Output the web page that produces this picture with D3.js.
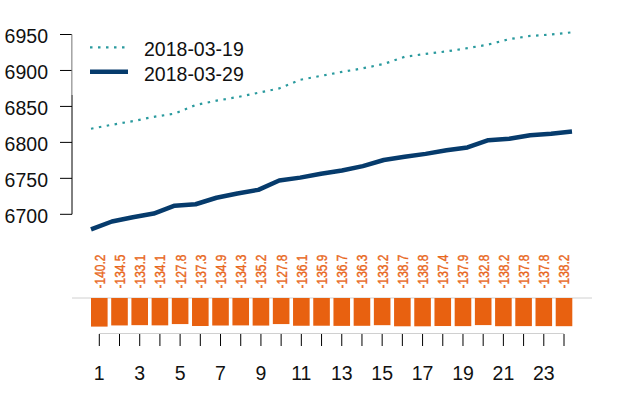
<!DOCTYPE html>
<html>
<head>
<meta charset="utf-8">
<script src="https://cdn.jsdelivr.net/npm/d3@7"></script>
<style>
  body { margin: 0; background: #fff; }
  svg { display: block; font-family: "Liberation Sans", Arial, sans-serif; }
</style>
</head>
<body>
<div id="chart"></div>
<script>
// Data
const hours = d3.range(1, 25);
const series0319 = [6819, 6824.5, 6829.5, 6835.5, 6840, 6852, 6858, 6863, 6869, 6875, 6887, 6892.5,
  6898, 6903, 6909, 6919, 6923, 6926.5, 6931, 6936, 6943.5, 6948, 6950, 6953];
const series0329 = [6679, 6690, 6696, 6701, 6712, 6714, 6723, 6729, 6734, 6747, 6751, 6756.5,
  6761, 6767, 6775.5, 6780, 6784, 6789, 6793, 6803, 6805, 6810, 6812, 6815];
const diffs = [-140.2, -134.5, -133.1, -134.1, -127.8, -137.3, -134.9, -134.3, -135.2, -127.8, -136.1, -135.9,
  -136.7, -136.3, -133.2, -138.7, -138.8, -137.4, -137.9, -132.8, -138.2, -137.8, -137.8, -138.2];
const yTicks = [6700, 6750, 6800, 6850, 6900, 6950];
const xTickLabels = [1, 3, 5, 7, 9, 11, 13, 15, 17, 19, 21, 23];
const legendNames = ["2018-03-19", "2018-03-29"];

const width = 640, height = 400;
const teal = "#2a9a9e", navy = "#063b6c", orange = "#e86110", labelOrange = "#e8671c";

const svg = d3.select("#chart").append("svg")
  .attr("width", width)
  .attr("height", height);

// Scales
const x = d3.scaleLinear().domain([1, 24]).range([91, 572]);
const xb = d3.scaleLinear().domain([1, 24]).range([99.3, 564]);
const y = d3.scaleLinear().domain([6700, 6950]).range([214.3, 34.5]);
const yb = d3.scaleLinear().domain([0, -140.2]).range([298, 326.6]);

// Y axis (R style)
const yAxis = svg.append("g");
yAxis.append("line")
  .attr("x1", 72).attr("x2", 72)
  .attr("y1", y(6700)).attr("y2", y(6950))
  .attr("stroke", "#000");
yAxis.selectAll(".tick").data(yTicks).enter().append("line")
  .attr("x1", 60).attr("x2", 72)
  .attr("y1", d => y(d)).attr("y2", d => y(d))
  .attr("stroke", "#000");
yAxis.selectAll("text").data(yTicks).enter().append("text")
  .attr("x", 48).attr("y", d => y(d) + 1.5)
  .attr("dy", "0.36em")
  .attr("text-anchor", "end")
  .attr("font-size", 19.5)
  .attr("fill", "#111")
  .text(d => d);

// Legend box (half-transparent, over the axis line)
svg.append("rect")
  .attr("x", 71.5).attr("y", 24)
  .attr("width", 190).attr("height", 71)
  .attr("fill", "#fff").attr("fill-opacity", 0.6);

const lineGen = d3.line().x((d, i) => x(hours[i])).y(d => y(d));

svg.append("path")
  .datum(series0319)
  .attr("d", lineGen)
  .attr("fill", "none")
  .attr("stroke", teal)
  .attr("stroke-width", 2.2)
  .attr("stroke-dasharray", "2.5,5.5");

svg.append("path")
  .datum(series0329)
  .attr("d", lineGen)
  .attr("fill", "none")
  .attr("stroke", navy)
  .attr("stroke-width", 4.5)
  .attr("stroke-linejoin", "round");

// Legend
const legend = svg.append("g");
legendNames.forEach((name, i) => {
  const ly = 47.3 + i * 24.4;
  legend.append("line")
    .attr("x1", 90).attr("x2", i ? 128 : 126)
    .attr("y1", ly).attr("y2", ly)
    .attr("stroke", i ? navy : teal)
    .attr("stroke-width", i ? 4.5 : 2.2)
    .attr("stroke-dasharray", i ? null : "2.5,5.5");
  legend.append("text")
    .attr("x", 144).attr("y", ly + 2)
    .attr("dy", "0.36em")
    .attr("font-size", 19.5)
    .attr("fill", "#111")
    .text(name);
});

// Difference bars
svg.append("line")
  .attr("x1", 72).attr("x2", 592)
  .attr("y1", yb(0)).attr("y2", yb(0))
  .attr("stroke", "#d0d0d0");

svg.selectAll(".bar").data(diffs).enter().append("rect")
  .attr("x", (d, i) => xb(hours[i]) - 8.3)
  .attr("y", yb(0))
  .attr("width", 16.6)
  .attr("height", d => yb(d) - yb(0))
  .attr("fill", orange);

// narrow, tall labels like the original device font
svg.selectAll(".blabel").data(diffs).enter().append("text")
  .attr("transform", (d, i) => `translate(${xb(hours[i])},288.5) rotate(-90) scale(0.8,1)`)
  .attr("dy", "0.36em")
  .attr("font-size", 15)
  .attr("fill", labelOrange)
  .attr("stroke", labelOrange)
  .attr("stroke-width", 0.4)
  .text(d => d.toFixed(1));

// X axis
const xAxis = svg.append("g");
xAxis.append("line")
  .attr("x1", xb(1)).attr("x2", xb(24))
  .attr("y1", 333.5).attr("y2", 333.5)
  .attr("stroke", "#d0d0d0");
xAxis.selectAll(".tick").data(hours).enter().append("line")
  .attr("x1", d => xb(d)).attr("x2", d => xb(d))
  .attr("y1", 334).attr("y2", 346)
  .attr("stroke", "#000");
xAxis.selectAll("text").data(xTickLabels).enter().append("text")
  .attr("x", d => xb(d)).attr("y", 373)
  .attr("dy", "0.36em")
  .attr("text-anchor", "middle")
  .attr("font-size", 19.5)
  .attr("fill", "#111")
  .text(d => d);
</script>
</body>
</html>
